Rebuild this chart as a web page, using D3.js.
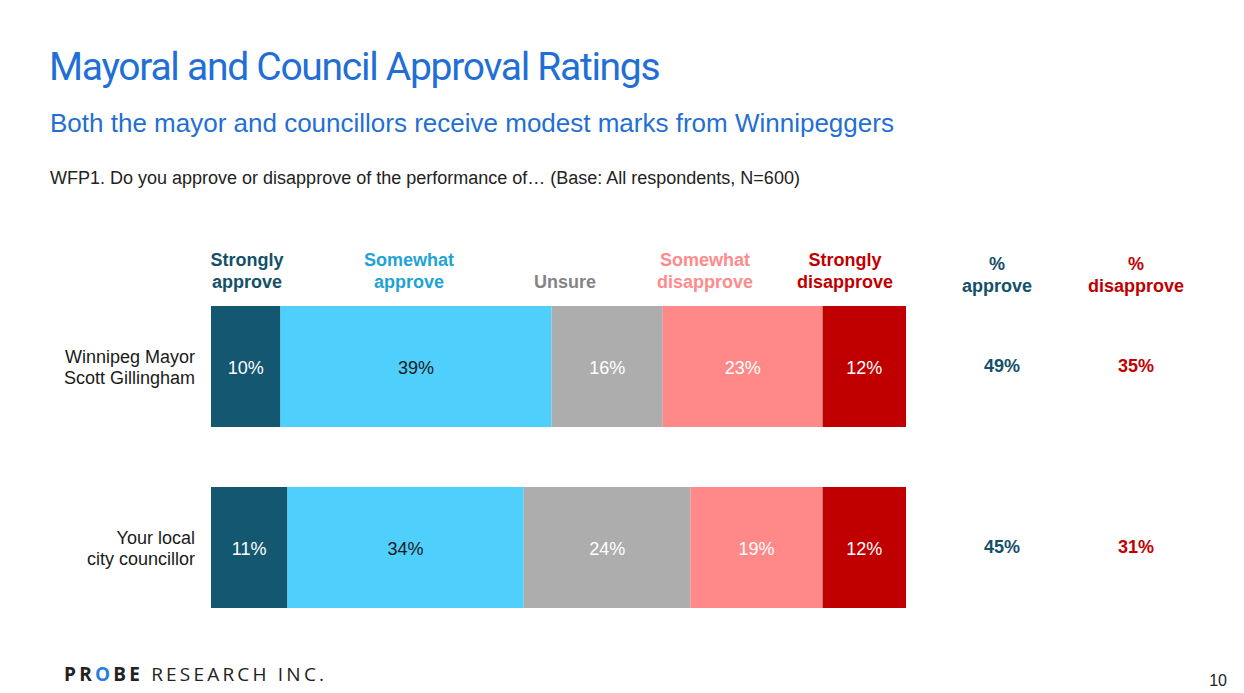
<!DOCTYPE html>
<html><head><meta charset="utf-8">
<script src="https://cdn.jsdelivr.net/npm/d3@7"></script>
<style>body{margin:0;background:#fff}svg{display:block}</style>
</head><body>
<svg id="c" width="1244" height="693"></svg>
<script>
const rows = ["Winnipeg Mayor\nScott Gillingham", "Your local\ncity councillor"];
const categories = ["Strongly approve", "Somewhat approve", "Unsure", "Somewhat disapprove", "Strongly disapprove"];
const headerLines = [["Strongly","approve"],["Somewhat","approve"],["Unsure"],["Somewhat","disapprove"],["Strongly","disapprove"]];
const stronglyApprove = [10, 11];
const somewhatApprove = [39, 34];
const unsure = [16, 24];
const somewhatDisapprove = [23, 19];
const stronglyDisapprove = [12, 12];
const pctApprove = [49, 45];
const pctDisapprove = [35, 31];

const series = [stronglyApprove, somewhatApprove, unsure, somewhatDisapprove, stronglyDisapprove];
const fills = ["#135771", "#4fcffc", "#adadad", "#ff8989", "#c00000"];
const headColors = ["#14506a", "#1fa3d6", "#858585", "#ff8b8b", "#c00000"];
const valColors = ["#ffffff", "#1a1a1a", "#ffffff", "#ffffff", "#ffffff"];

const svg = d3.select("#c");
const F = "'Liberation Sans', Arial, sans-serif";

svg.append("text").attr("x", 49).attr("y", 80).attr("fill", "#1f6fd6")
  .attr("font-family", "Roboto, sans-serif").attr("font-size", 39).attr("letter-spacing", "-1.28px")
  .text("Mayoral and Council Approval Ratings");
svg.append("text").attr("x", 50).attr("y", 132).attr("fill", "#1f6fd6")
  .attr("font-family", F).attr("font-size", 26)
  .text("Both the mayor and councillors receive modest marks from Winnipeggers");
svg.append("text").attr("x", 50).attr("y", 184).attr("fill", "#222")
  .attr("font-family", F).attr("font-size", 18)
  .text("WFP1. Do you approve or disapprove of the performance of… (Base: All respondents, N=600)");

const x = d3.scaleLinear().domain([0, 100]).range([211, 906]);
const y = d3.scaleBand().domain(rows).range([306, 608]).paddingInner(60 / 181).paddingOuter(0);

const stackData = rows.map((r, i) => {
  let cum = 0;
  return series.map((s, k) => { const d = {row: r, k, v: s[i], x0: cum, x1: cum + s[i]}; cum += s[i]; return d; });
});

rows.forEach((r, i) => {
  const g = svg.append("g");
  g.selectAll("rect").data(stackData[i]).join("rect")
    .attr("x", d => x(d.x0)).attr("width", d => x(d.x1) - x(d.x0))
    .attr("y", y(r)).attr("height", y.bandwidth())
    .attr("fill", d => fills[d.k]);
  g.selectAll("text.v").data(stackData[i]).join("text").attr("class", "v")
    .attr("x", d => (x(d.x0) + x(d.x1)) / 2).attr("y", y(r) + y.bandwidth() / 2 + 7)
    .attr("text-anchor", "middle").attr("font-family", F).attr("font-size", 18)
    .attr("fill", d => valColors[d.k]).text(d => d.v + "%");
  const lines = r.split("\n");
  const t = svg.append("text").attr("text-anchor", "end").attr("font-family", F).attr("font-size", 18).attr("fill", "#1a1a1a");
  lines.forEach((l, j) => t.append("tspan").attr("x", 195).attr("y", y(r) + y.bandwidth() / 2 - 4 + j * 21).text(l));
  svg.append("text").attr("x", 1002).attr("y", y(r) + y.bandwidth() / 2 + 5).attr("text-anchor", "middle")
    .attr("font-family", F).attr("font-size", 18).attr("font-weight", "bold").attr("fill", "#14506a").text(pctApprove[i] + "%");
  svg.append("text").attr("x", 1136).attr("y", y(r) + y.bandwidth() / 2 + 5).attr("text-anchor", "middle")
    .attr("font-family", F).attr("font-size", 18).attr("font-weight", "bold").attr("fill", "#c00000").text(pctDisapprove[i] + "%");
});

stackData[0].forEach((d, k) => {
  const cx = [247, 409, 565, 705, 845][k];
  const t = svg.append("text").attr("text-anchor", "middle").attr("font-family", F).attr("font-size", 18)
    .attr("font-weight", "bold").attr("fill", headColors[k]);
  const ls = headerLines[k];
  ls.forEach((l, j) => t.append("tspan").attr("x", cx).attr("y", 288 - (ls.length - 1 - j) * 22).text(l));
});
[["%", "approve", 997, "#14506a"], ["%", "disapprove", 1136, "#c00000"]].forEach(h => {
  const t = svg.append("text").attr("text-anchor", "middle").attr("font-family", F).attr("font-size", 18)
    .attr("font-weight", "bold").attr("fill", h[3]);
  t.append("tspan").attr("x", h[2]).attr("y", 270).text(h[0]);
  t.append("tspan").attr("x", h[2]).attr("y", 292).text(h[1]);
});

const logo = svg.append("text").attr("x", 64).attr("y", 681).attr("font-family", "'Open Sans', sans-serif")
  .attr("font-size", 19).attr("letter-spacing", "3.2px").attr("fill", "#222");
logo.append("tspan").attr("font-weight", "bold").text("PR");
logo.append("tspan").attr("font-weight", "bold").attr("fill", "#2a7de1").text("O");
logo.append("tspan").attr("font-weight", "bold").text("BE");
logo.append("tspan").text(" RESEARCH INC.");

svg.append("text").attr("x", 1227).attr("y", 686).attr("text-anchor", "end").attr("font-family", F)
  .attr("font-size", 16).attr("fill", "#222").text("10");
</script>
</body></html>
